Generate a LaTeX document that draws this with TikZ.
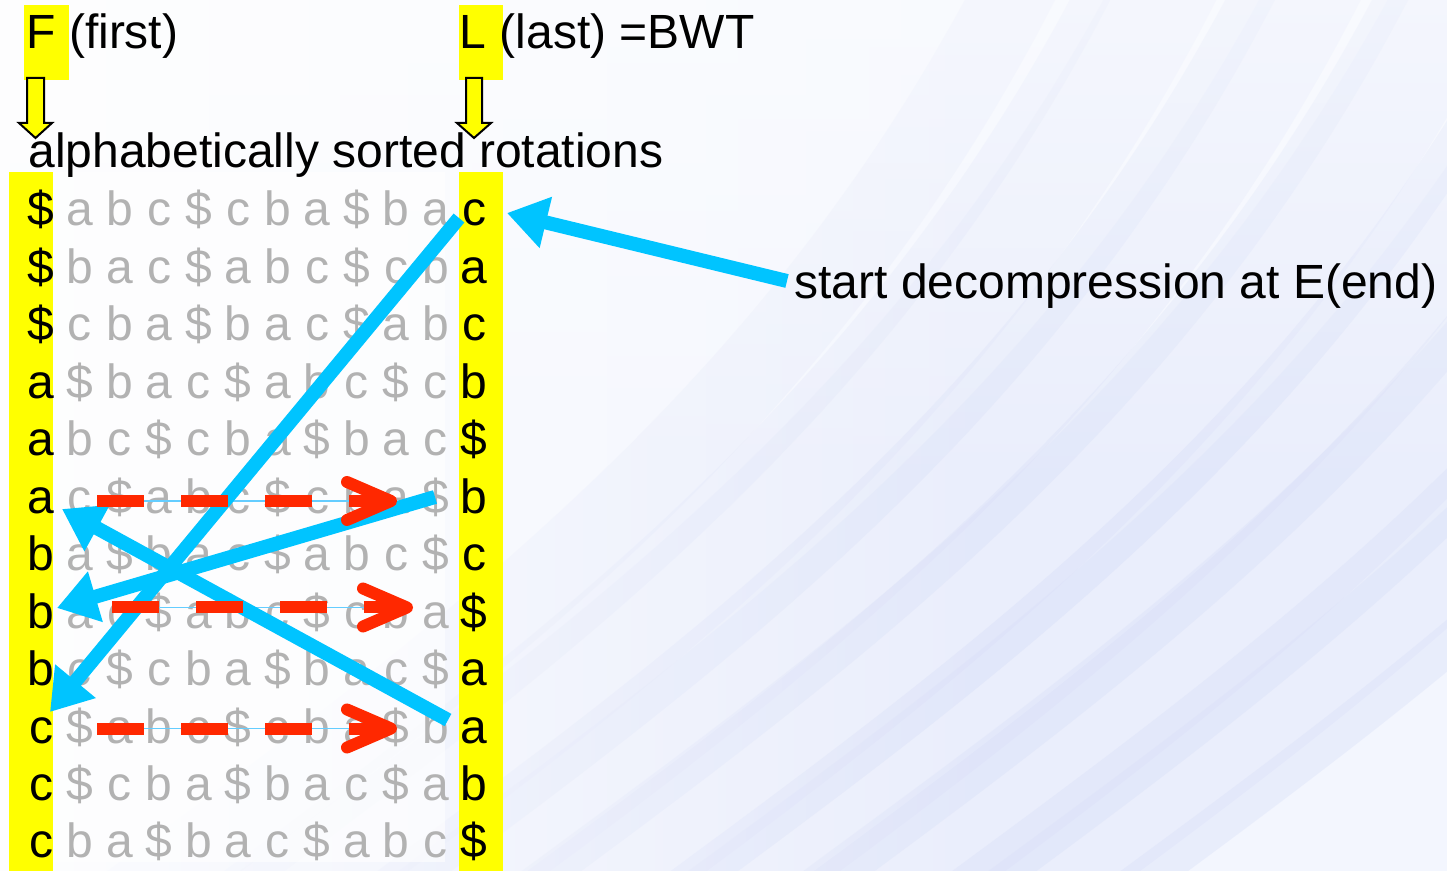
\documentclass[tikz,border=0pt]{standalone}
\usepackage{fontspec}
\setmainfont{Liberation Sans}
\usetikzlibrary{arrows.meta,calc,fadings}

\definecolor{hiyel}{RGB}{255,255,0}
\definecolor{skyarr}{RGB}{0,196,255}
\definecolor{thinblue}{RGB}{100,205,255}
\definecolor{redarr}{RGB}{255,40,0}
\definecolor{graytxt}{RGB}{178,178,178}
\definecolor{bgbase}{RGB}{243,246,254}
\definecolor{streak}{RGB}{214,221,248}

% one sorted rotation: F letter, ten inner letters, L letter
\newcommand\bwtrow[2]{%
  \foreach \ch [count=\k] in {#2} {%
    \pgfmathsetmacro\xx{\k==1 ? 41 : (\k==12 ? 474 : 80+39.5*(\k-2))}%
    \def\chcol{black}%
    \ifnum\k>1 \ifnum\k<12 \def\chcol{graytxt}\fi\fi
    \node[anchor=base, text=\chcol] (r#1c\k) at (\xx, {226+57.45*(#1-1)}) {\ch};
  }%
}

\begin{document}
\begin{tikzpicture}[x=0.5pt,y=-0.5pt,
  every node/.style={inner sep=0pt, font=\fontsize{24}{28}\selectfont},
  hibox/.style={fill=hiyel, draw=none},
  downarrow/.style={fill=hiyel, draw=black, line width=1pt, line join=miter},
  bluearr/.style={draw=skyarr, line width=7pt,
    -{Triangle[length=20pt,width=25pt]}, fill=skyarr},
  reddash/.style={draw=redarr, line width=6pt, dash pattern=on 23.5pt off 18.5pt},
  redhead/.style={draw=redarr, line width=6pt, line cap=round, line join=round},
  guide/.style={draw=thinblue, line width=0.8pt}]

\useasboundingbox (0,0) rectangle (1447,871);

% background with soft diagonal streaks
\fill[bgbase] (0,0) rectangle (1447,871);
\begin{scope}
  \clip (0,0) rectangle (1447,871);
  \foreach \o/\w/\op in {-300/40/0.25, -220/18/0.3, -150/50/0.25, -60/22/0.35,
                         0/45/0.3, 80/16/0.35, 140/55/0.3, 230/20/0.4,
                         290/45/0.3, 370/18/0.35, 430/60/0.3, 520/25/0.35,
                         590/45/0.3, 680/20/0.35} {
    \draw[streak, line width=\w, opacity=\op, line cap=round]
      (300+\o,1000) .. controls (700+\o,700) and (1100+\o,450) .. (1350+\o,-80);
  }
  \fill[white, path fading=east, opacity=0.85] (-10,-10) rectangle (1000,881);
  \fill[white, path fading=south, opacity=0.5] (-10,-10) rectangle (1460,500);
\end{scope}

% lighter panel behind the rotations
\fill[white, opacity=0.6] (53,172) rectangle (445,862);

% highlighted F and L columns and headers
\fill[hibox] (24,5) rectangle (69,80);
\fill[hibox] (459,5) rectangle (503,80);
\fill[hibox] (9,172) rectangle (53,871);
\fill[hibox] (459,172) rectangle (503,871);

\node[anchor=base west] (ftitle) at (26,49) {F (first)};
\node[anchor=base west] (ltitle) at (459.5,49) {L (last) =BWT};
\node[anchor=base west] (sorted) at (28,168) {alphabetically sorted rotations};
\node[anchor=base west] (start) at (794,299) {start decompression at E(end)};

% hollow down arrows under F and L
\draw[downarrow] (27,78) -- (44,78) -- (44,123) -- (52,123) -- (35.5,138)
  -- (19,123) -- (27,123) -- cycle;
\draw[downarrow] (466,78) -- (482,78) -- (482,123) -- (491,123) -- (474,138)
  -- (457,123) -- (466,123) -- cycle;

% sorted rotations of abc$cba$bac$
\bwtrow{1}{\$,a,b,c,\$,c,b,a,\$,b,a,c}
\bwtrow{2}{\$,b,a,c,\$,a,b,c,\$,c,b,a}
\bwtrow{3}{\$,c,b,a,\$,b,a,c,\$,a,b,c}
\bwtrow{4}{a,\$,b,a,c,\$,a,b,c,\$,c,b}
\bwtrow{5}{a,b,c,\$,c,b,a,\$,b,a,c,\$}
\bwtrow{6}{a,c,\$,a,b,c,\$,c,b,a,\$,b}
\bwtrow{7}{b,a,\$,b,a,c,\$,a,b,c,\$,c}
\bwtrow{8}{b,a,c,\$,a,b,c,\$,c,b,a,\$}
\bwtrow{9}{b,c,\$,c,b,a,\$,b,a,c,\$,a}
\bwtrow{10}{c,\$,a,b,c,\$,c,b,a,\$,b,a}
\bwtrow{11}{c,\$,c,b,a,\$,b,a,c,\$,a,b}
\bwtrow{12}{c,b,a,\$,b,a,c,\$,a,b,c,\$}

% end points of the connectors
\coordinate (sA) at (787,281);   \coordinate (tA) at (507,213);
\coordinate (sB) at (459,218);   \coordinate (tB) at (50,712);
\coordinate (sC) at (448,720);   \coordinate (tC) at (62,509);
\coordinate (sD) at (435,497);   \coordinate (tD) at (57,608);
\coordinate (p6) at (97,501);    \coordinate (q6) at (391,501);
\coordinate (p8) at (112,607.5); \coordinate (q8) at (407,607.5);
\coordinate (p10) at (97,728.5); \coordinate (q10) at (391,728.5);

% thin guides along the copied rows
\draw[guide] (p6) -- (q6);
\draw[guide] (p8) -- (q8);
\draw[guide] (p10) -- (q10);

% LF-mapping steps
\draw[bluearr] (sA) -- (tA);
\draw[bluearr] (sB) -- (tB);
\draw[bluearr] (sC) -- (tC);
\draw[bluearr] (sD) -- (tD);

% copy rows
\foreach \p/\q in {p6/q6, p8/q8, p10/q10} {
  \draw[reddash] (\p) -- (\q);
  \draw[redhead] ($(\q)+(-44,-19)$) -- (\q) -- ($(\q)+(-44,19)$);
}
\end{tikzpicture}
\end{document}
